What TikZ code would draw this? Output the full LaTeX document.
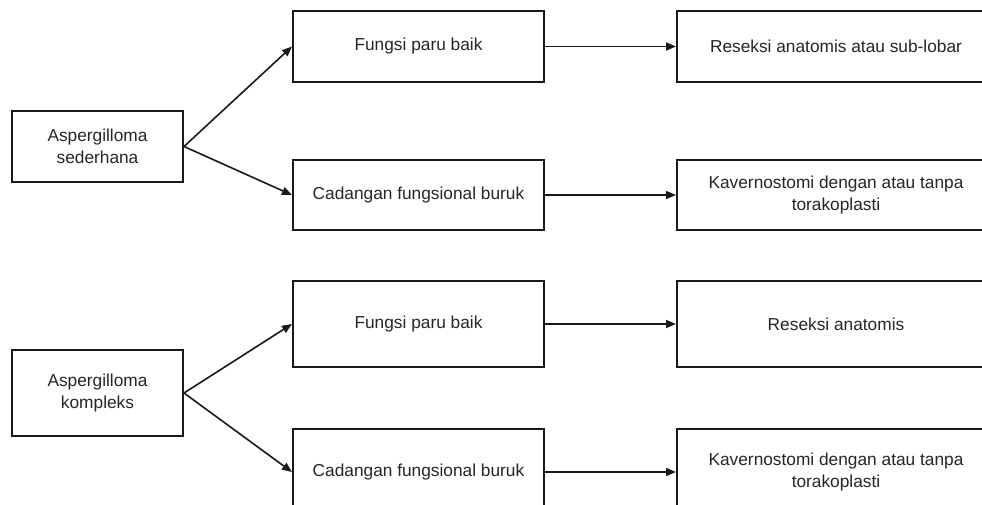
\documentclass[tikz,border=0pt]{standalone}
\usepackage{fontspec}
\setmainfont{Liberation Sans}
\usetikzlibrary{arrows.meta}
\begin{document}
\begin{tikzpicture}[x=1pt,y=-1pt,
  box/.style={draw=black!90, line width=2pt, fill=white, align=center, inner sep=0pt,
    text=black!85, font=\fontsize{17.3}{22}\selectfont},
  lbox/.style={box, minimum width=171pt},
  mbox/.style={box, minimum width=251pt},
  rbox/.style={box, minimum width=318pt},
  conn/.style={draw=black!90, line width=1.6pt, -{Triangle[length=10pt,width=8pt]}}]
\useasboundingbox (0,0) rectangle (982,504);
\clip (0,0) rectangle (982,504);
% top diagram
\node[lbox, minimum height=71pt] (a1) at (97.5,146.5) {Aspergilloma\\sederhana};
\node[mbox, minimum height=71pt] (b1) at (418.5,46.5) {Fungsi paru baik};
\node[mbox, minimum height=70pt] (c1) at (418.5,195) {Cadangan fungsional buruk};
\node[rbox, minimum height=71pt] (d1) at (836,46.5) {Reseksi anatomis atau sub-lobar};
\node[rbox, minimum height=70pt] (e1) at (836,195) {Kavernostomi dengan atau tanpa\\torakoplasti};
\draw[conn] (a1.east) -- (b1.west);
\draw[conn] (a1.east) -- (c1.west);
\draw[conn] (b1.east) -- (d1.west);
\draw[conn] (c1.east) -- (e1.west);
% bottom diagram
\node[lbox, minimum height=86pt] (a2) at (97.5,393) {Aspergilloma\\kompleks};
\node[mbox, minimum height=86pt] (b2) at (418.5,324) {Fungsi paru baik};
\node[mbox, minimum height=86pt] (c2) at (418.5,472) {Cadangan fungsional buruk};
\node[rbox, minimum height=86pt] (d2) at (836,324) {Reseksi anatomis};
\node[rbox, minimum height=86pt] (e2) at (836,472) {Kavernostomi dengan atau tanpa\\torakoplasti};
\draw[conn] (a2.east) -- (b2.west);
\draw[conn] (a2.east) -- (c2.west);
\draw[conn] (b2.east) -- (d2.west);
\draw[conn] (c2.east) -- (e2.west);
\end{tikzpicture}
\end{document}
